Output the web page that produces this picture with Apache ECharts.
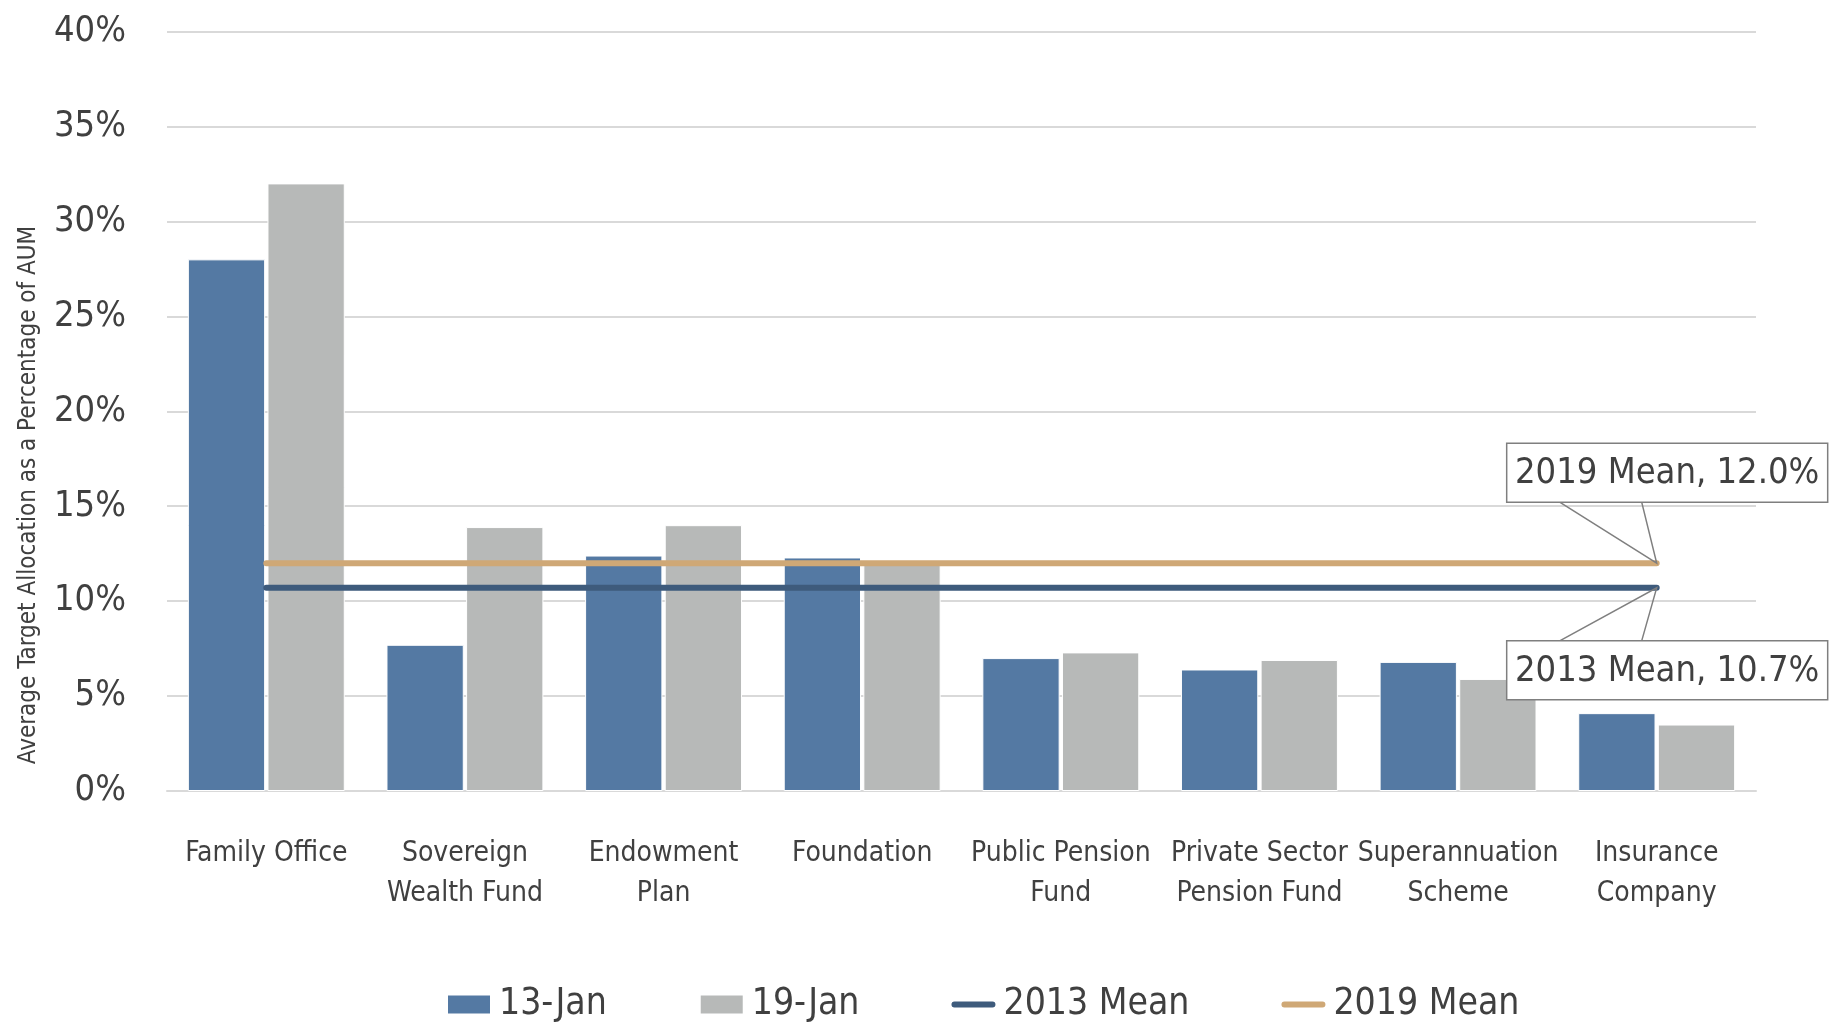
<!DOCTYPE html>
<html>
<head>
<meta charset="utf-8">
<script src="https://cdn.jsdelivr.net/npm/echarts@6/dist/echarts.min.js"></script>
<style>
    html, body { margin: 0; padding: 0; background: #fff; }
    #main { width: 1832px; height: 1026px; }
</style>
</head>
<body>
<div id="main"></div>
<script>
var categories = ['Family Office', 'Sovereign\nWealth Fund', 'Endowment\nPlan', 'Foundation',
    'Public Pension\nFund', 'Private Sector\nPension Fund', 'Superannuation\nScheme', 'Insurance\nCompany'];
var jan13 = [28.0, 7.7, 12.4, 12.3, 7.0, 6.4, 6.8, 4.1];
var jan19 = [32.0, 13.9, 14.0, 12.1, 7.3, 6.9, 5.9, 3.5];
var mean2013 = [10.7, 10.7, 10.7, 10.7, 10.7, 10.7, 10.7, 10.7];
var mean2019 = [12.0, 12.0, 12.0, 12.0, 12.0, 12.0, 12.0, 12.0];
var yTicks = [0, 5, 10, 15, 20, 25, 30, 35, 40];

// no Arial Narrow here, so condensed DejaVu at sizes that keep the widths
var fontNarrow = '"DejaVu Sans Condensed", sans-serif';
var textColor = '#404040';
var gridColor = '#d9d9d9';
// short rounded bar for the mean lines in the legend (zero-width strokes keep the 44x20 box)
var lineIcon = 'path://M3,7 L41,7 A3,3 0 0 1 41,13 L3,13 A3,3 0 0 1 3,7 Z M0,0 L44,0 M0,20 L44,20';

var chart = echarts.init(document.getElementById('main'));

var option = {
    animation: false,
    textStyle: { fontFamily: fontNarrow },
    grid: {
        left: 167,
        right: 76,
        top: 31.5,
        bottom: 235
    },
    legend: {
        top: 986,
        left: 446,
        padding: 0,
        itemWidth: 44,
        itemHeight: 20,
        itemGap: 92,
        textStyle: {
            fontFamily: fontNarrow,
            fontSize: 37,
            color: textColor,
            padding: [0, 0, 0, 3]
        },
        data: [
            { name: '13-Jan', icon: 'rect' },
            { name: '19-Jan', icon: 'rect' },
            { name: '2013 Mean', icon: lineIcon, itemStyle: { color: '#3e5b7c', borderWidth: 0 } },
            { name: '2019 Mean', icon: lineIcon, itemStyle: { color: '#cfa876', borderWidth: 0 } }
        ]
    },
    xAxis: {
        type: 'category',
        data: categories,
        axisTick: { show: false },
        axisLine: { lineStyle: { color: gridColor, width: 2 } },
        axisLabel: {
            margin: 43,
            fontSize: 28,
            lineHeight: 40,
            color: textColor,
            fontFamily: fontNarrow,
            interval: 0
        }
    },
    yAxis: {
        type: 'value',
        min: yTicks[0],
        max: yTicks[yTicks.length - 1],
        interval: 5,
        axisLine: { show: false },
        axisTick: { show: false },
        splitLine: { lineStyle: { color: gridColor, width: 2 } },
        axisLabel: {
            margin: 41,
            fontSize: 36,
            color: textColor,
            fontFamily: fontNarrow,
            formatter: '{value}%'
        }
    },
    series: [
        {
            name: '13-Jan',
            type: 'bar',
            data: jan13,
            barGap: '3%',
            barCategoryGap: '21%',
            itemStyle: { color: '#5479a3', borderColor: '#fff', borderWidth: 1 }
        },
        {
            name: '19-Jan',
            type: 'bar',
            data: jan19,
            itemStyle: { color: '#b7b9b8', borderColor: '#fff', borderWidth: 1 }
        },
        {
            name: '2013 Mean',
            type: 'line',
            data: mean2013,
            symbol: 'none',
            z: 5,
            lineStyle: { color: '#3e5b7c', width: 6, cap: 'round' },
            itemStyle: { color: '#3e5b7c' }
        },
        {
            name: '2019 Mean',
            type: 'line',
            data: mean2019,
            symbol: 'none',
            z: 5,
            lineStyle: { color: '#cfa876', width: 6, cap: 'round' },
            itemStyle: { color: '#cfa876' }
        }
    ],
    graphic: [
        {
            type: 'text',
            x: 29,
            y: 495,
            rotation: Math.PI / 2,
            style: {
                text: 'Average Target Allocation as a Percentage of AUM',
                fontFamily: fontNarrow,
                fontSize: 24,
                fill: textColor,
                align: 'center',
                verticalAlign: 'middle'
            }
        }
    ]
};

chart.setOption(option);

// callout boxes for the two means, anchored at the last point of each line
function callout(seriesIndex, values, text, above) {
    var last = values.length - 1;
    var p = chart.convertToPixel({ seriesIndex: seriesIndex }, [last, values[last]]);
    var boxLeft = p[0] - 150;
    var boxW = 321, boxH = 59;
    var boxTop = above ? p[1] - 120 : p[1] + 53;
    var baseY = above ? boxTop + boxH : boxTop;
    return [
        {
            type: 'polyline',
            z: 100,
            shape: { points: [[p[0] - 97, baseY], [p[0], p[1]], [p[0] - 15, baseY]] },
            style: { stroke: '#7f7f7f', lineWidth: 1.5, fill: null }
        },
        {
            type: 'rect',
            z: 101,
            shape: { x: boxLeft, y: boxTop, width: boxW, height: boxH },
            style: { fill: '#fff', stroke: '#7f7f7f', lineWidth: 1.5 }
        },
        {
            type: 'text',
            z: 102,
            x: boxLeft + boxW / 2,
            y: boxTop + boxH / 2 + 1,
            style: {
                text: text,
                fontFamily: fontNarrow,
                fontSize: 36,
                fill: textColor,
                align: 'center',
                verticalAlign: 'middle'
            }
        }
    ];
}

var extra = []
    .concat(callout(3, mean2019, '2019 Mean, 12.0%', true))
    .concat(callout(2, mean2013, '2013 Mean, 10.7%', false));

chart.setOption({ graphic: option.graphic.concat(extra) });
</script>
</body>
</html>
